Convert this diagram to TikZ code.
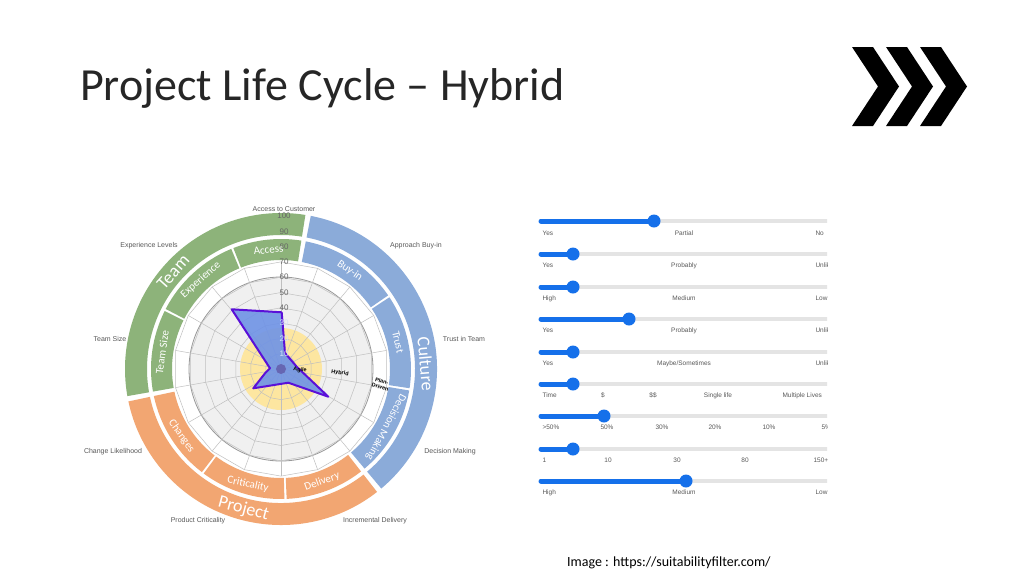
\documentclass[tikz,border=0pt]{standalone}
\usepackage{fontspec}
\setmainfont{Carlito}
\newfontfamily\lib{Liberation Sans}
\definecolor{gr}{HTML}{8DB37A}
\definecolor{bl}{HTML}{8BABD9}
\definecolor{orc}{HTML}{F2A672}
\definecolor{sb}{HTML}{1570EA}
\definecolor{tr}{HTML}{E4E4E4}
\definecolor{poly}{HTML}{6F93E6}
\definecolor{polyb}{HTML}{5A10D8}
\newcommand{\annsec}[5]{\fill[#1] (#2:#4) arc[start angle=#2,end angle=#3,radius=#4] -- (#3:#5) arc[start angle=#3,end angle=#2,radius=#5] -- cycle;}
\tikzset{axl/.style={font=\lib\fontsize{7}{8}\selectfont, text=black!65},
 sll/.style={font=\lib\fontsize{6.5}{7}\selectfont, text=black!65, anchor=base},
 bandtxt/.style={text=white, font=\fontsize{11}{12}\selectfont, inner sep=1pt},
 bigtxt/.style={text=white, font=\fontsize{18}{19}\selectfont, inner sep=1pt}}
\begin{document}
\begin{tikzpicture}[x=1pt,y=1pt]
\useasboundingbox (0,0) rectangle (1024,-576);
\fill[white] (0,0) rectangle (1024,-576);
% title
\node[anchor=base west, font=\fontsize{46}{48}\selectfont, text=black!85, inner sep=0pt] (title) at (80,-100) {Project Life Cycle -- Hybrid};
% chevrons
\foreach \d in {0,34,68}{
 \fill[black] (852+\d,-47) -- (873+\d,-47) -- (899+\d,-86.5) -- (873+\d,-126) -- (852+\d,-126) -- (878+\d,-86.5) -- cycle;}
% caption
\node[anchor=base west, font=\fontsize{14}{16}\selectfont, inner sep=0pt] (cap) at (567,-566) {Image : https://suitabilityfilter.com/};
% radar
\begin{scope}[shift={(281,-369)}]
 \annsec{gr}{81}{190}{134}{156}
 \annsec{bl}{-50}{79}{134}{156}
 \annsec{orc}{192}{308}{134}{156}
 \annsec{gr}{81}{111.5}{109}{130}
 \annsec{gr}{112.5}{152.5}{109}{130}
 \annsec{gr}{153.5}{190}{109}{130}
 \annsec{bl}{34.5}{79}{109}{130}
 \annsec{bl}{-8.5}{33.5}{109}{130}
 \annsec{bl}{-50}{-9.5}{109}{130}
 \annsec{orc}{192}{232.5}{109}{130}
 \annsec{orc}{233.5}{271.5}{109}{130}
 \annsec{orc}{272.5}{308}{109}{130}
 \fill[black!6] (0,0) circle (92);
 \draw[black!40, line width=0.8pt] (0,0) circle (92);
 \fill[yellow!50!orange!35] (0,0) circle (41);
 \foreach \k in {1,...,7}{
  \draw[black!25, line width=0.5pt] (10:{15.3*\k}) \foreach \a in {30,50,...,370}{ -- (\a:{15.3*\k})};}
 \foreach \a in {10,30,...,350}{\draw[black!25, line width=0.5pt] (0,0) -- (\a:107);}
 \fill[poly, opacity=0.9] (-49.3,59.7) -- (0.7,56.7) -- (4,16) -- (15.7,2.3) -- (47.3,-27.7) -- (7.3,-13.7) -- (-27.7,-19.3) -- (-16,-4.3) -- (-11,0.7) -- cycle;
 \draw[polyb, line width=2pt, line join=round] (-49.3,59.7) -- (0.7,56.7) -- (4,16) -- (15.7,2.3) -- (47.3,-27.7) -- (7.3,-13.7) -- (-27.7,-19.3) -- (-16,-4.3) -- (-11,0.7) -- cycle;
 \fill[blue!50!black!60] (0,0) circle (5);
 \foreach \k in {4,...,10}{\node[font=\lib\fontsize{8}{9}\selectfont, text=black!60, inner sep=0.5pt] at (3,{15.3*\k}) {\pgfmathparse{int(10*\k)}\pgfmathresult};}
 \foreach \k in {1,2,3}{\node[font=\lib\fontsize{8}{9}\selectfont, text=white!70!poly, inner sep=0.5pt] at (3,{15.3*\k}) {\pgfmathparse{int(10*\k)}\pgfmathresult};}
 \node[font=\lib\bfseries\fontsize{5.5}{6}\selectfont, rotate=-8, inner sep=0.5pt] (agile) at (19,-1) {Agile};
 \node[font=\lib\bfseries\fontsize{5.5}{6}\selectfont, rotate=-8, inner sep=0.5pt] (hyb) at (59,-4) {Hybrid};
 \node[font=\lib\bfseries\fontsize{5.5}{6}\selectfont, rotate=-15, align=center, inner sep=0pt] (plan) at (100,-15) {Plan-\\Driven};
 \node[bandtxt, rotate=6] at (96:120) {Access};
 \node[bandtxt, rotate=42] at (132:120) {Experience};
 \node[bandtxt, rotate=82] at (172:120) {Team Size};
 \node[bandtxt, rotate=-35] at (55:120) {Buy-in};
 \node[bandtxt, rotate=-77] at (13:120) {Trust};
 \node[bandtxt, rotate=-118] at (-29:120) {Decision Making};
 \node[bandtxt, rotate=-55] at (214:120) {Changes};
 \node[bandtxt, rotate=-12] at (254:120) {Criticality};
 \node[bandtxt, rotate=20] at (290:120) {Delivery};
 \node[bigtxt, rotate=48] at (138:145) {Team};
 \node[bigtxt, rotate=-85] at (2:145) {Culture};
 \node[bigtxt, rotate=-15] at (-105:145) {Project};
 \node[axl] (ac) at (3,160) {Access to Customer};
 \node[axl] (ab) at (135,123) {Approach Buy-in};
 \node[axl] (tt) at (183,30) {Trust in Team};
 \node[axl] (dm) at (169,-83) {Decision Making};
 \node[axl] (id) at (94,-152) {Incremental Delivery};
 \node[axl] (pc) at (-83,-152) {Product Criticality};
 \node[axl] (cl) at (-168,-83) {Change Likelihood};
 \node[axl] (ts) at (-171,30) {Team Size};
 \node[axl] (el) at (-132,123) {Experience Levels};
\end{scope}
\begin{scope}
\clip (530,-200) rectangle (827,-500);
\foreach \y/\k in {221/654,254/573,287/573,319/629,352/573,384/573,416/604,449/573,481/686}{
 \draw[tr, line width=4pt] (540,-\y) -- (830,-\y);
 \draw[sb, line width=5pt, line cap=round] (541,-\y) -- (\k,-\y);
 \fill[sb] (\k,-\y) circle (6.5);}
\foreach \y/\a/\b/\c in {235/Yes/Partial/No,267/Yes/Probably/Unlikely,300/High/Medium/Low,332/Yes/Probably/Unlikely,365/Yes/Maybe\slash Sometimes/Unlikely,494/High/Medium/Low}{
 \node[sll, anchor=base west] at (539,-\y) {\a};
 \node[sll] at (684,-\y) {\b};
 \node[sll, anchor=base west] at (812,-\y) {\c};}
\node[sll, anchor=base west] at (539,-397) {Time};
\node[sll] at (603,-397) {\$};
\node[sll] at (653,-397) {\$\$};
\node[sll] at (718,-397) {Single life};
\node[sll, anchor=base west] at (779,-397) {Multiple Lives};
\node[sll, anchor=base west] at (539,-429) {>50\%};
\node[sll] at (607,-429) {50\%};
\node[sll] at (662,-429) {30\%};
\node[sll] at (715,-429) {20\%};
\node[sll] at (769,-429) {10\%};
\node[sll, anchor=base west] at (818,-429) {5\%};
\node[sll, anchor=base west] at (539,-462) {1};
\node[sll] at (608,-462) {10};
\node[sll] at (677,-462) {30};
\node[sll] at (745,-462) {80};
\node[sll, anchor=base west] at (810,-462) {150+};
\end{scope}
\end{tikzpicture}
\end{document}
